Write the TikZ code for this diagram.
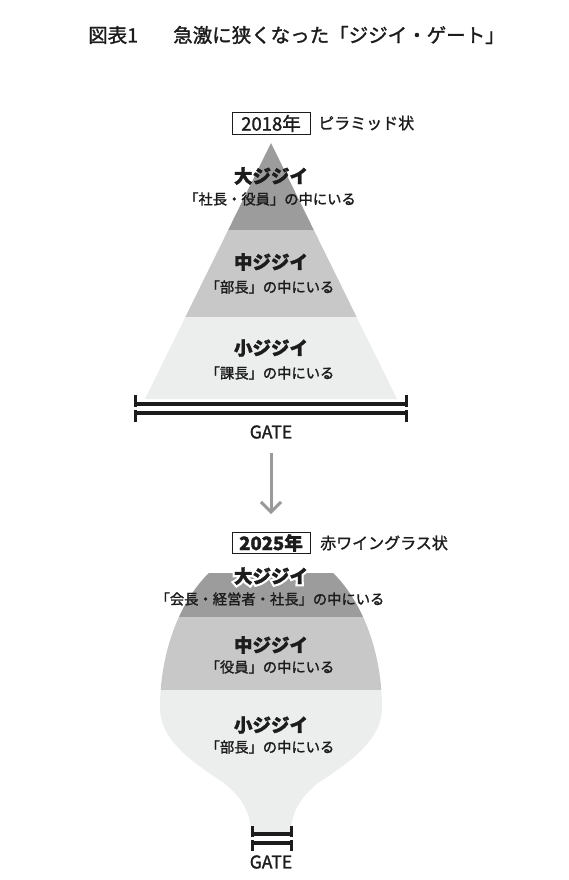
\documentclass[tikz,border=0pt]{standalone}
\usepackage{fontspec}
\setmainfont{Noto Sans CJK JP}[FakeBold=1.5]
\newfontfamily\halofont{Noto Sans CJK JP}[FakeBold=26]
\usetikzlibrary{arrows.meta,calc}
\definecolor{bandD}{HTML}{9C9C9C}
\definecolor{bandM}{HTML}{C8C8C8}
\definecolor{bandL}{HTML}{ECEDED}
\definecolor{ink}{HTML}{1C1C1C}
\definecolor{arrowgray}{HTML}{9A9A9A}
\begin{document}
\begin{tikzpicture}[x=1pt,y=-1pt,
  every node/.style={inner sep=0pt,text=ink},
  titletxt/.style={font=\fontsize{19.5}{22}\selectfont,anchor=west},
  headtxt/.style={font=\fontsize{18.5}{20}\selectfont\bfseries},
  halotxt/.style={font=\halofont\fontsize{18.5}{20}\selectfont\bfseries,text=white},
  subtxt/.style={font=\fontsize{14.3}{16}\selectfont},
  yearbox/.style={draw=ink,line width=0.9pt,minimum width=78pt,minimum height=21.5pt,font=\fontsize{18.5}{20}\selectfont},
  shapetxt/.style={font=\fontsize{16}{18}\selectfont,anchor=west},
  gatetxt/.style={font=\fontsize{17.5}{19}\selectfont},
  gatebar/.style={line width=4pt,draw=ink},
  gatetick/.style={line width=3pt,draw=ink},
  downarrow/.style={draw=arrowgray,line width=3pt,-{Straight Barb[length=10pt,width=20pt,line width=3pt]}}
]
\useasboundingbox (0,0) rectangle (569,880);

% title
\node[titletxt] (t1) at (88,35) {図表1};
\node[titletxt] (t2) at (173,35) {急激に狭くなった「ジジイ・ゲート」};

% ---------- 2018 pyramid ----------
\node[yearbox] (y1) at (271,123.5) {2018年};
\node[shapetxt] (s1) at (318,123) {ピラミッド状};

\coordinate (apex) at (271,143);
\coordinate (bl) at (145,399);
\coordinate (br) at (397,399);
\begin{scope}
  \clip (apex) -- (br) -- (bl) -- cycle;
  \fill[bandD] (100,130) rectangle (440,230);
  \fill[bandM] (100,230) rectangle (440,317);
  \fill[bandL] (100,317) rectangle (440,402);
\end{scope}

\node[headtxt] (p1h) at (271,176) {大ジジイ};
\node[subtxt] (p1s) at (270,199) {「社長・役員」の中にいる};
\node[headtxt] (p2h) at (271,262) {中ジジイ};
\node[subtxt] (p2s) at (270,287) {「部長」の中にいる};
\node[headtxt] (p3h) at (271,348) {小ジジイ};
\node[subtxt] (p3s) at (270,373) {「課長」の中にいる};

% top gate
\draw[gatebar] (135,404) -- (406,404);
\draw[gatebar] (135,413) -- (406,413);
\draw[gatetick] (135,395) -- (135,407);
\draw[gatetick] (135,410) -- (135,422);
\draw[gatetick] (406,395) -- (406,407);
\draw[gatetick] (406,410) -- (406,422);
\node[gatetxt] (g1) at (271,432) {GATE};

% arrow
\coordinate (a1) at (271,453);
\coordinate (a2) at (271,514);
\draw[downarrow] (a1) -- (a2);

% ---------- 2025 wine glass ----------
\node[yearbox,font=\fontsize{18.5}{20}\selectfont\bfseries] (y2) at (271,543) {2025年};
\node[shapetxt] (s2) at (320,543) {赤ワイングラス状};

\def\glasspath{(209,573) -- (333,573)
  -- plot[domain=55.9:0,samples=40,variable=\t] ({271+111*cos(\t)},{708-163*sin(\t)})
  .. controls (382,742) and (345,765) .. (318,783)
  .. controls (300,798) and (291,812) .. (291,834)
  -- (251,834)
  .. controls (251,812) and (242,798) .. (224,783)
  .. controls (197,765) and (160,742) .. (160,708)
  -- plot[domain=180:124.1,samples=40,variable=\t] ({271+111*cos(\t)},{708-163*sin(\t)})
  -- cycle}
\begin{scope}
  \clip \glasspath;
  \fill[bandD] (140,560) rectangle (400,617);
  \fill[bandM] (140,617) rectangle (400,690);
  \fill[bandL] (140,690) rectangle (400,840);
\end{scope}

\coordinate (b1) at (271,576);
\node[halotxt] (w1halo) at (b1) {大ジジイ};
\node[headtxt] (w1h) at (b1) {大ジジイ};
\node[subtxt] (w1s) at (270,599) {「会長・経営者・社長」の中にいる};
\node[headtxt] (w2h) at (271,645) {中ジジイ};
\node[subtxt] (w2s) at (270,667) {「役員」の中にいる};
\node[headtxt] (w3h) at (271,725) {小ジジイ};
\node[subtxt] (w3s) at (270,747) {「部長」の中にいる};

% bottom gate
\draw[gatebar] (252,834) -- (291,834);
\draw[gatebar] (252,843) -- (291,843);
\draw[gatetick] (252,826) -- (252,837);
\draw[gatetick] (252,840) -- (252,851);
\draw[gatetick] (291,826) -- (291,837);
\draw[gatetick] (291,840) -- (291,851);
\node[gatetxt] (g2) at (271,862) {GATE};
\end{tikzpicture}
\end{document}
